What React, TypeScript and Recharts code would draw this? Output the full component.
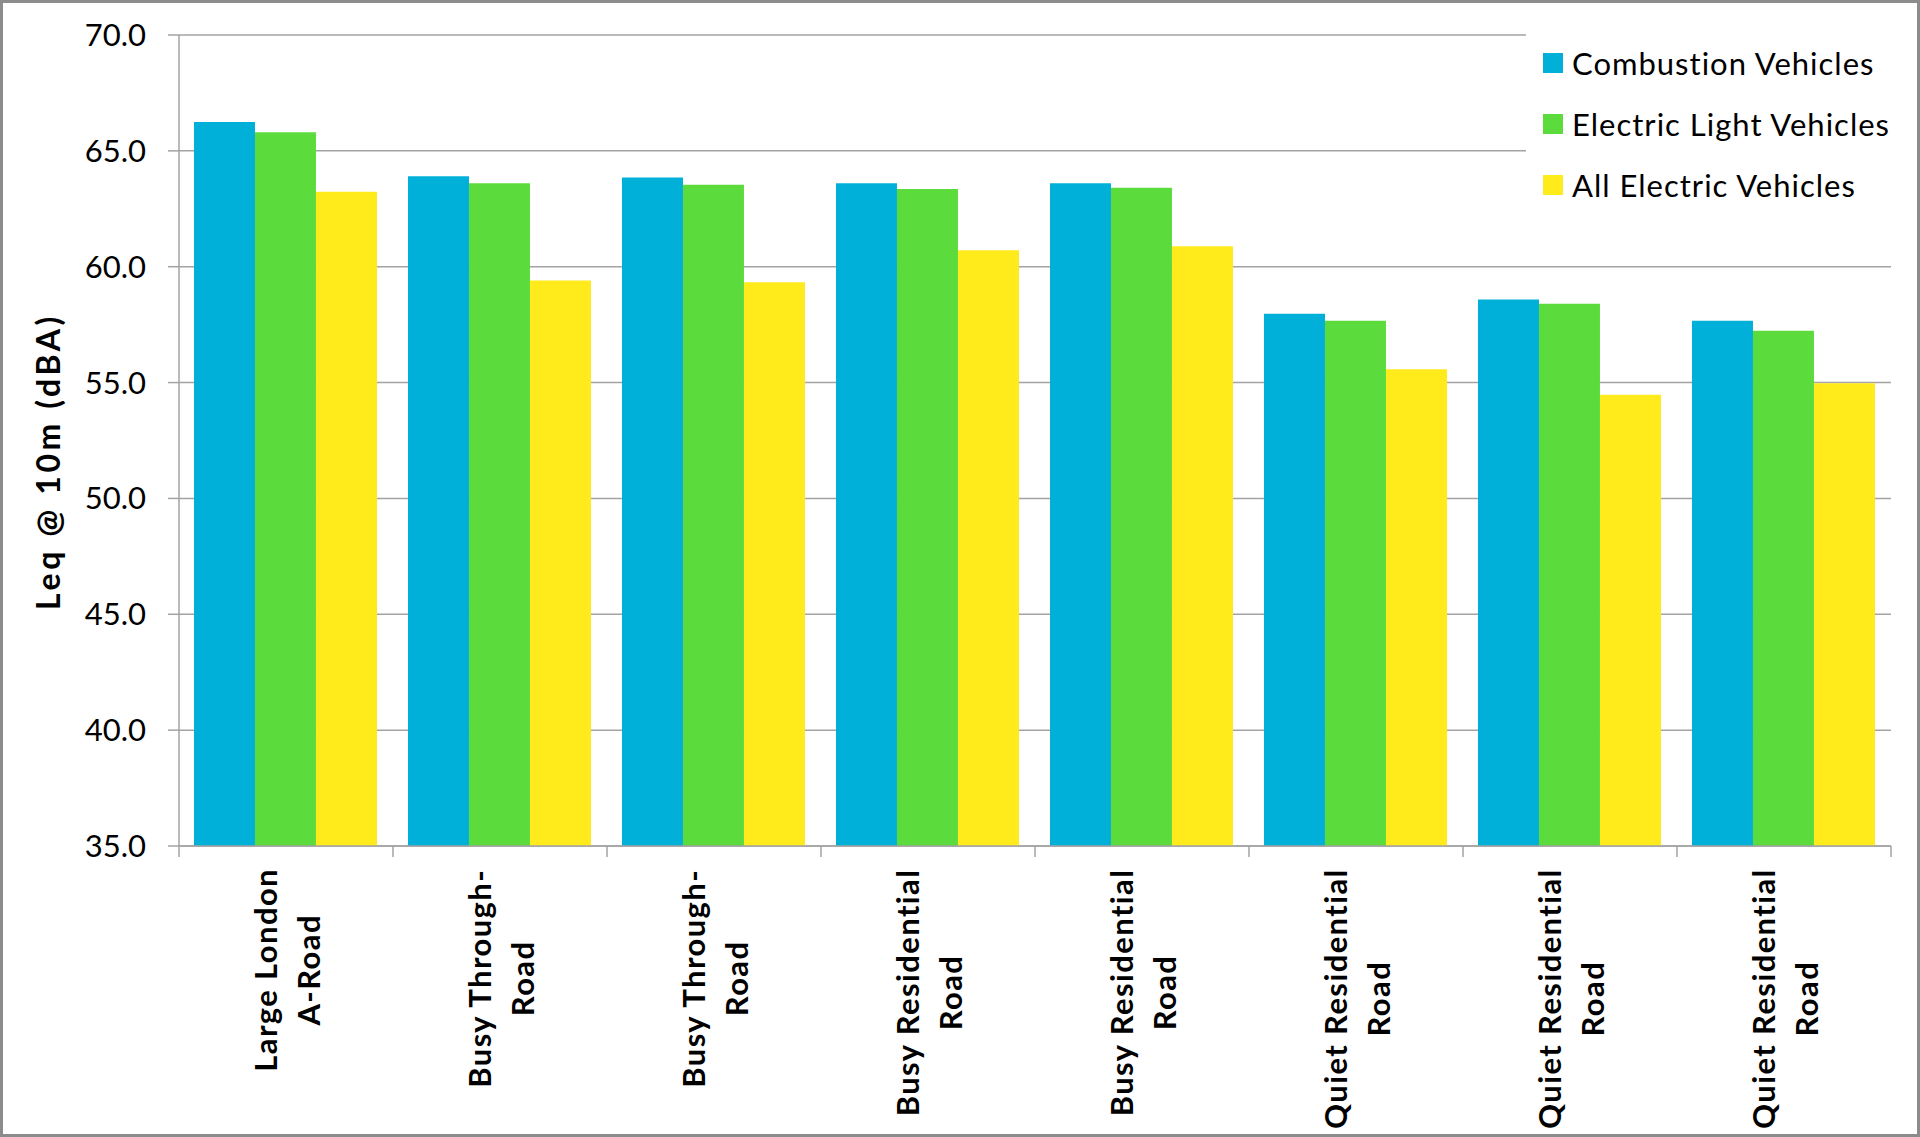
import React from 'react';
import { BarChart, Bar, XAxis, YAxis, CartesianGrid, Legend } from 'recharts';

const categories = [
  'Large London\nA-Road',
  'Busy Through-\nRoad',
  'Busy Through-\nRoad',
  'Busy Residential\nRoad',
  'Busy Residential\nRoad',
  'Quiet Residential\nRoad',
  'Quiet Residential\nRoad',
  'Quiet Residential\nRoad',
];
const combustion = [66.25, 63.9, 63.85, 63.6, 63.6, 57.97, 58.58, 57.67];
const electricLight = [65.8, 63.6, 63.54, 63.35, 63.41, 57.67, 58.4, 57.24];
const allElectric = [63.23, 59.4, 59.33, 60.71, 60.88, 55.58, 54.47, 54.97];
const seriesNames = ['Combustion Vehicles', 'Electric Light Vehicles', 'All Electric Vehicles'];
const seriesKeys = ['combustion', 'electricLight', 'allElectric'];
const seriesColors = ['#00b0d8', '#5cdc3c', '#ffea1c'];
const yTicks = [35, 40, 45, 50, 55, 60, 65, 70];
const yLabel = 'Leq @ 10m (dBA)';

const data = categories.map((name, i) => ({
  name,
  combustion: combustion[i],
  electricLight: electricLight[i],
  allElectric: allElectric[i],
}));

const W = 1920;
const H = 1137;
const Y_AXIS_W = 179;
const RIGHT = 29;
const TOP = 35;
const X_AXIS_H = 291;
const PLOT_W = W - Y_AXIS_W - RIGHT;
const BAND = PLOT_W / categories.length;
const FONT = 'Lato, "Open Sans", sans-serif';
const LABEL_FONT_SIZE = 31;
const LABEL_LS = 1.4;
const GRID = '#a3a3a3';

let ctx: CanvasRenderingContext2D | null = null;
function measure(text: string, weight: number, size: number, ls: number) {
  if (!ctx) {
    const c = document.createElement('canvas');
    ctx = c.getContext('2d');
  }
  if (!ctx) return text.length * size * 0.55;
  ctx.font = `${weight} ${size}px Lato`;
  return ctx.measureText(text).width + ls * text.length;
}

const XTick = (props: any) => {
  const { x, y, payload, index } = props;
  const lines: string[] = String(payload.value).split('\n');
  const widths = lines.map((l) => measure(l, 700, LABEL_FONT_SIZE, LABEL_LS));
  const maxW = Math.max(...widths);
  const topY = y + 22;
  const cy = topY + maxW / 2;
  const offs = [-9, 34];
  const last = index === categories.length - 1;
  return (
    <g>
      <line x1={x - BAND / 2} x2={x - BAND / 2} y1={y} y2={y + 11} stroke={GRID} strokeWidth={1.5} />
      {last && <line x1={x + BAND / 2} x2={x + BAND / 2} y1={y} y2={y + 11} stroke={GRID} strokeWidth={1.5} />}
      {lines.map((l, i) => (
        <text
          key={i}
          transform={`translate(${x + offs[i]}, ${cy}) rotate(-90)`}
          textAnchor="middle"
          fontFamily={FONT}
          fontWeight={700}
          fontSize={LABEL_FONT_SIZE}
          letterSpacing={LABEL_LS}
          fill="#000"
        >
          {l}
        </text>
      ))}
    </g>
  );
};

const YLabel = (props: any) => {
  const { viewBox } = props;
  const cy = viewBox.y + viewBox.height / 2 + 21;
  return (
    <text
      transform={`translate(60, ${cy}) rotate(-90)`}
      textAnchor="middle"
      fontFamily={FONT}
      fontWeight={700}
      fontSize={32}
      letterSpacing={3.6}
      fill="#000"
    >
      {yLabel}
    </text>
  );
};

const LegendContent = () => {
  return (
    <div style={{ position: 'relative', width: '100%', height: '100%' }}>
      {seriesNames.map((name, i) => (
        <div
          key={name}
          style={{
            position: 'absolute',
            left: 17,
            top: 2 + i * 61,
            height: 61,
            display: 'flex',
            alignItems: 'center',
            whiteSpace: 'nowrap',
          }}
        >
          <span style={{ display: 'inline-block', width: 20, height: 20, background: seriesColors[i], marginRight: 9 }} />
          <span style={{ fontFamily: FONT, fontSize: 31, color: '#000', letterSpacing: 1 }}>{name}</span>
        </div>
      ))}
    </div>
  );
};

export default function App() {
  return (
    <div
      style={{
        position: 'absolute',
        left: 0,
        top: 0,
        width: W,
        height: H,
        background: '#fff',
        border: '3px solid #8c8c8c',
        boxSizing: 'border-box',
        overflow: 'hidden',
      }}
    >
      <div style={{ position: 'absolute', left: -3, top: -3 }}>
        <BarChart
          width={W}
          height={H}
          data={data}
          margin={{ top: TOP, right: RIGHT, left: 0, bottom: 0 }}
          barCategoryGap="7%"
          barGap={0}
        >
          <CartesianGrid vertical={false} stroke={GRID} strokeWidth={1.5} />
          <XAxis
            dataKey="name"
            height={X_AXIS_H}
            interval={0}
            tickLine={false}
            tickSize={0}
            tickMargin={0}
            axisLine={{ stroke: GRID, strokeWidth: 1.5 }}
            tick={<XTick />}
          />
          <YAxis
            width={Y_AXIS_W}
            domain={[35, 70]}
            ticks={yTicks}
            interval={0}
            tickSize={11}
            tickMargin={22}
            tickLine={{ stroke: GRID, strokeWidth: 1.5 }}
            axisLine={{ stroke: GRID, strokeWidth: 1.5 }}
            tickFormatter={(v: number) => v.toFixed(1)}
            tick={{ fontFamily: FONT, fontSize: 31, fill: '#000' }}
            label={<YLabel />}
          />
          <Legend
            layout="vertical"
            align="center"
            verticalAlign="middle"
            content={<LegendContent />}
            wrapperStyle={{ left: 1526, top: 30, width: 366, height: 215, background: '#fff' }}
          />
          {seriesKeys.map((k, i) => (
            <Bar key={k} dataKey={k} name={seriesNames[i]} fill={seriesColors[i]} isAnimationActive={false} />
          ))}
        </BarChart>
      </div>
    </div>
  );
}
